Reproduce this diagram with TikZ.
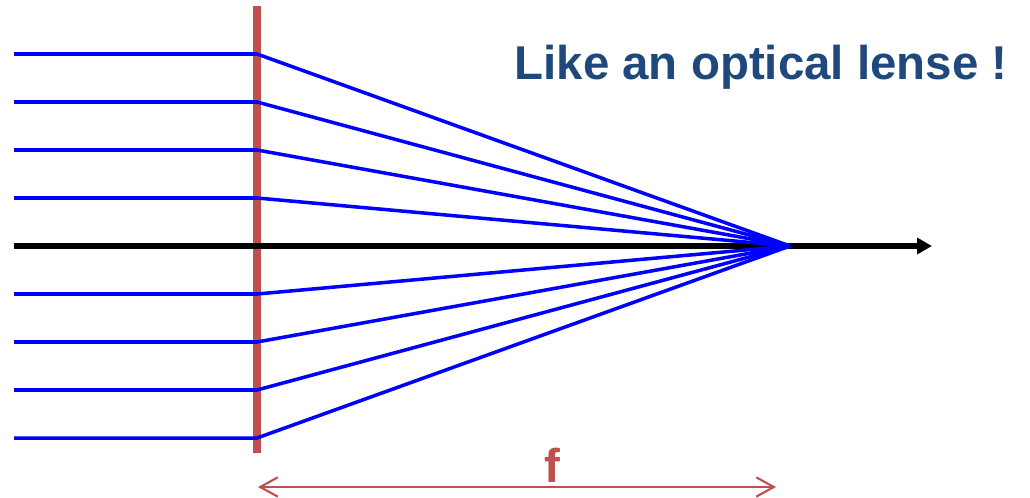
\documentclass[tikz,border=0pt]{standalone}
\usepackage{fontspec}
\setmainfont{Liberation Sans}
\usepackage{tikz}
\usetikzlibrary{arrows.meta, positioning}

\definecolor{lensred}{HTML}{C0504D}
\definecolor{titleblue}{HTML}{1F497D}
\definecolor{rayblue}{HTML}{0000FF}

\begin{document}
\begin{tikzpicture}[
  x=0.02cm, y=-0.02cm,
  ray/.style={draw=rayblue, line width=2pt, line join=miter},
  lens/.style={draw=lensred, line width=4.5pt},
  axis/.style={-{Triangle[length=8.5pt, width=9pt]}, line width=3.2pt},
  dim/.style={{Straight Barb[length=10pt, width=11pt]}-{Straight Barb[length=10pt, width=11pt]}, draw=lensred, line width=1.2pt},
  label/.style={font=\bfseries\fontsize{27}{32}\selectfont, inner sep=0pt}
]
  \useasboundingbox (0,0) rectangle (1030,497);

  \coordinate (lenstop) at (257,6);
  \coordinate (lensbot) at (257,453);
  \coordinate (axisstart) at (14,246);
  \coordinate (axisend) at (932,246);
  \coordinate (focus) at (790,246);
  \coordinate (dimleft) at (258,487);
  \coordinate (dimright) at (776,487);

  \draw[lens] (lenstop) -- (lensbot);
  \draw[axis] (axisstart) -- (axisend);

  % parallel rays bent to the focal point
  \foreach \i/\y in {1/54,2/102,3/150,4/198,5/294,6/342,7/390,8/438} {
    \coordinate (in\i) at (14,\y);
    \coordinate (hit\i) at (257,\y);
    \draw[ray] (in\i) -- (hit\i) -- (focus);
  }

  \draw[dim] (dimleft) -- (dimright);

  \node[label, text=titleblue, anchor=base] (title) at (761,79) {Like an optical lense !};
  \node[label, text=lensred, anchor=base] (flabel) at (552,482) {f};
\end{tikzpicture}
\end{document}
